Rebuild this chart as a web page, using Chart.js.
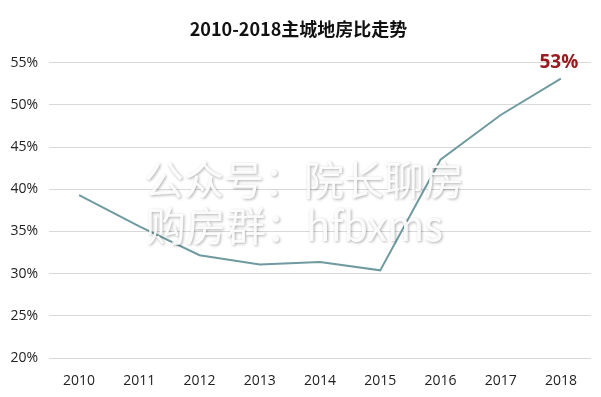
<!DOCTYPE html>
<html>
<head>
<meta charset="utf-8">
<script src="https://cdn.jsdelivr.net/npm/chart.js@4"></script>
<style>
  html, body { margin: 0; padding: 0; background: #fff; }
  #wrap { width: 601px; height: 397px; }
</style>
</head>
<body>
<div id="wrap"><canvas id="grafico"></canvas></div>
<script>
const titulo = "2010-2018主城地房比走势";
const anos = ["2010", "2011", "2012", "2013", "2014", "2015", "2016", "2017", "2018"];
const dibi = [39.3, 35.6, 32.2, 31.1, 31.4, 30.4, 43.5, 48.8, 53.1];
const rotuloFinal = "53%";
const marcaDagua = ["公众号：院长聊房", "购房群：hfbxms"];

// rotulo vermelho sobre o ultimo ponto
const rotuloPlugin = {
    id: "rotulo",
    afterDatasetsDraw(chart) {
        const ctx = chart.ctx;
        const meta = chart.getDatasetMeta(0);
        const p = meta.data[meta.data.length - 1];
        ctx.save();
        ctx.font = "bold 19px 'Open Sans', 'Noto Sans', sans-serif";
        ctx.fillStyle = "#9a1c21";
        ctx.textAlign = "center";
        ctx.textBaseline = "bottom";
        ctx.fillText(rotuloFinal, p.x - 2, p.y - 7);
        ctx.restore();
    }
};

// marca d'agua
const marcaPlugin = {
    id: "marca",
    afterDraw(chart) {
        const ctx = chart.ctx;
        ctx.save();
        ctx.font = "40px 'Noto Sans CJK SC', sans-serif";
        ctx.textAlign = "left";
        ctx.textBaseline = "middle";
        ctx.shadowColor = "rgba(0,0,0,0.35)";
        ctx.shadowBlur = 3;
        ctx.shadowOffsetX = 1;
        ctx.shadowOffsetY = 1;
        ctx.fillStyle = "rgba(255,255,255,0.92)";
        ctx.fillText(marcaDagua[0], 144, 180);
        ctx.fillText(marcaDagua[1], 146, 226);
        ctx.restore();
    }
};

new Chart(document.getElementById("grafico"), {
    type: "line",
    data: {
        labels: anos,
        datasets: [{
            data: dibi,
            borderColor: "#6f9aa0",
            borderWidth: 2,
            pointRadius: 0,
            tension: 0,
            fill: false
        }]
    },
    options: {
        responsive: true,
        maintainAspectRatio: false,
        animation: false,
        layout: { padding: { left: 6, right: 10, top: 0, bottom: 2 } },
        plugins: {
            legend: { display: false },
            tooltip: { enabled: false },
            title: {
                display: true,
                text: titulo,
                color: "#111",
                font: { family: "'Noto Sans CJK SC', sans-serif", size: 18, weight: "bold" },
                padding: { top: 18, bottom: 23 }
            }
        },
        scales: {
            x: {
                offset: true,
                grid: { display: false },
                border: { display: false },
                ticks: {
                    color: "#222",
                    font: { family: "'Open Sans', 'Noto Sans', sans-serif", size: 14 },
                    padding: 6
                }
            },
            y: {
                min: 20,
                max: 55,
                afterFit(scale) { scale.width = 43; },
                grid: { color: "#d9d9d9", lineWidth: 1, drawTicks: false },
                border: { display: false },
                ticks: {
                    stepSize: 5,
                    color: "#222",
                    padding: 11,
                    font: { family: "'Open Sans', 'Noto Sans', sans-serif", size: 14 },
                    callback: v => v + "%"
                }
            }
        }
    },
    plugins: [rotuloPlugin, marcaPlugin]
});
</script>
</body>
</html>
